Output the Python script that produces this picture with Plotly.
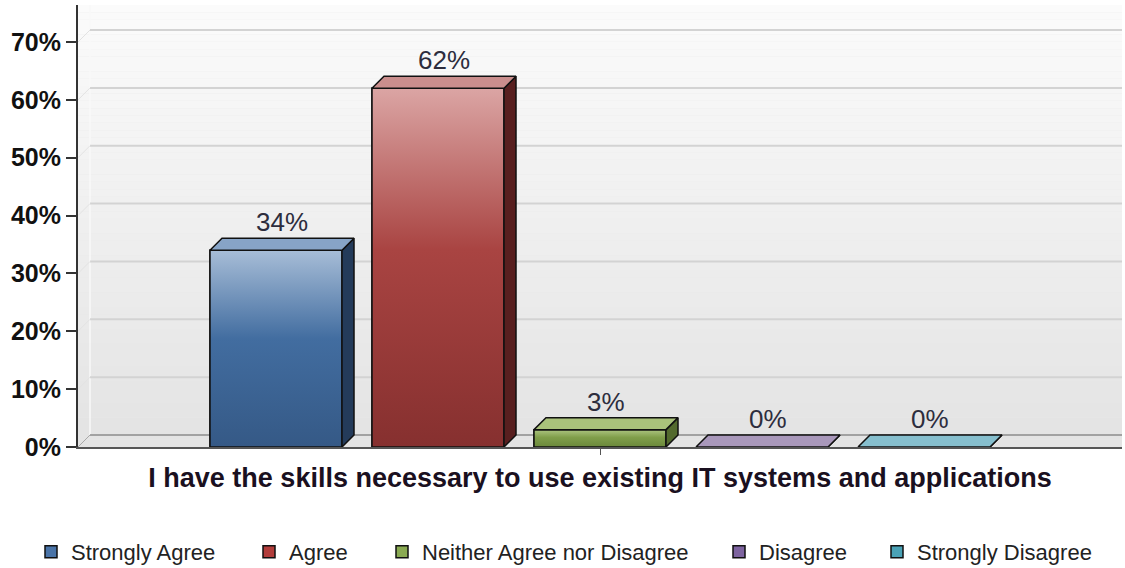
import plotly.graph_objects as go

# ---- data ---------------------------------------------------------------
question = "I have the skills necessary to use existing IT systems and applications"
responses = ["Strongly Agree", "Agree", "Neither Agree nor Disagree", "Disagree", "Strongly Disagree"]
percentages = [34, 62, 3, 0, 0]
y_ticks = [0, 10, 20, 30, 40, 50, 60, 70]

# ---- colours per response -----------------------------------------------
legend_colors = ["#4a74a8", "#b23d3b", "#8aaa52", "#7e64a0", "#4aa2b6"]
front_top = ["#a7bdd7", "#dba5a4", "#adc581", "#b7a9c8", "#9fd0dc"]
front_mid = ["#426da0", "#a94442", "#809e4a", "#8a73a8", "#56aabd"]
front_bottom = ["#355986", "#86302f", "#6b893b", "#6a5485", "#3f8697"]
top_face = ["#87a4c7", "#ca8e8d", "#aac27b", "#a998bb", "#86bfce"]
side_face = ["#243b5a", "#581f1f", "#536a2e", "#4d3e63", "#2f6572"]

# ---- geometry -----------------------------------------------------------
W, H = 1125, 568
M_L, M_R, M_T, M_B = 78, 3, 5, 121
PLOT_W = W - M_L - M_R
PLOT_H = H - M_T - M_B
Y_MAX = 76.4
X_MIN, X_MAX = -0.5, 0.5

DEPTH_PX = 12                       # 3-D depth of bars and walls
DX = DEPTH_PX / PLOT_W
DY = DEPTH_PX * Y_MAX / PLOT_H
SLOT = 162 / PLOT_W                 # spacing between bar centres
BAR_W = 132 / PLOT_W                # bar width
n = len(responses)
centers = [(i - (n - 1) / 2) * SLOT for i in range(n)]

fig = go.Figure()

# bars (also provide the legend entries)
for i, (name, v) in enumerate(zip(responses, percentages)):
    fig.add_trace(go.Bar(
        x=[0], y=[v], width=BAR_W, offset=centers[i] - BAR_W / 2,
        name=name,
        marker=dict(color=legend_colors[i], line=dict(color="#111111", width=1.5)),
        legend="legend" if i == 0 else f"legend{i + 1}",
        hoverinfo="skip",
    ))

# shaded front faces, tops and sides
for i, v in enumerate(percentages):
    x0 = centers[i] - BAR_W / 2
    x1 = centers[i] + BAR_W / 2
    if v > 0:
        fig.add_trace(go.Scatter(
            x=[x0, x1, x1, x0, x0], y=[0, 0, v, v, 0],
            mode="lines", fill="toself",
            fillgradient=dict(type="vertical",
                              colorscale=[[0, front_bottom[i]], [0.55, front_mid[i]], [1, front_top[i]]]),
            line=dict(color="#111111", width=1.5),
            showlegend=False, hoverinfo="skip",
        ))
    # side face
    fig.add_trace(go.Scatter(
        x=[x1, x1 + DX, x1 + DX, x1, x1], y=[0, DY, v + DY, v, 0],
        mode="lines", fill="toself", fillcolor=side_face[i],
        line=dict(color="#111111", width=1.5),
        showlegend=False, hoverinfo="skip",
    ))
    # top face
    fig.add_trace(go.Scatter(
        x=[x0, x1, x1 + DX, x0 + DX, x0], y=[v, v, v + DY, v + DY, v],
        mode="lines", fill="toself", fillcolor=top_face[i],
        line=dict(color="#111111", width=1.5),
        showlegend=False, hoverinfo="skip",
    ))

# value labels
annotations = []
for i, v in enumerate(percentages):
    annotations.append(dict(
        x=centers[i] + DX / 2, y=v + DY, xref="x", yref="y",
        text=f"{v}%", showarrow=False, yanchor="bottom", yshift=-1,
        font=dict(family="Arial", size=26, color="#2d2d3d"),
    ))

# ---- walls, floor and grid ---------------------------------------------
shapes = []
n_bands = 60
c_bot = (0xe3, 0xe3, 0xe3)
c_top = (0xfb, 0xfb, 0xfb)
for b in range(n_bands):
    t = (b + 0.5) / n_bands
    col = tuple(round(c_bot[k] + (c_top[k] - c_bot[k]) * t) for k in range(3))
    shapes.append(dict(
        type="rect", xref="x", yref="y", layer="below",
        x0=X_MIN, x1=X_MAX, y0=Y_MAX * b / n_bands, y1=Y_MAX * (b + 1) / n_bands,
        fillcolor="rgb(%d,%d,%d)" % col, line=dict(width=0),
    ))
# left wall edge
shapes.append(dict(type="line", xref="x", yref="y", layer="below",
                   x0=X_MIN + DX, x1=X_MIN + DX, y0=DY, y1=Y_MAX,
                   line=dict(color="#f8f8f8", width=1.5)))
# grid lines on the back wall with their receding left ends
for v in y_ticks:
    if v == 0:
        continue
    shapes.append(dict(type="line", xref="x", yref="y", layer="below",
                       x0=X_MIN + DX, x1=X_MAX, y0=v + DY, y1=v + DY,
                       line=dict(color="#d3d3d3", width=2)))
    shapes.append(dict(type="line", xref="x", yref="y", layer="below",
                       x0=X_MIN, x1=X_MIN + DX, y0=v, y1=v + DY,
                       line=dict(color="#e2e2e2", width=1)))
# floor edges
shapes.append(dict(type="line", xref="x", yref="y", layer="below",
                   x0=X_MIN + DX, x1=X_MAX, y0=DY, y1=DY,
                   line=dict(color="#8c8c8c", width=1.5)))
shapes.append(dict(type="line", xref="x", yref="y", layer="below",
                   x0=X_MIN, x1=X_MIN + DX, y0=0, y1=DY,
                   line=dict(color="#a8a8a8", width=1)))

# ---- legends: one per response, laid out in a row -----------------------
legend_left_px = [45, 263, 396, 733, 891]
legend_font = dict(family="Arial", size=22, color="#222222")
layout_legends = {}
for i, px in enumerate(legend_left_px):
    key = "legend" if i == 0 else f"legend{i + 1}"
    layout_legends[key] = dict(
        x=(px - 14 - M_L) / PLOT_W, y=-(552 - (M_T + PLOT_H)) / PLOT_H,
        xanchor="left", yanchor="middle", orientation="h",
        font=legend_font, bgcolor="rgba(0,0,0,0)", borderwidth=0,
    )

fig.update_layout(
    width=W, height=H,
    margin=dict(l=M_L, r=M_R, t=M_T, b=M_B, autoexpand=False),
    paper_bgcolor="#ffffff", plot_bgcolor="#e8e8e8",
    barmode="overlay",
    showlegend=True,
    xaxis=dict(
        range=[X_MIN, X_MAX], tickvals=[0], ticktext=[question],
        showgrid=False, zeroline=False, showline=True,
        linecolor="#555555", linewidth=2,
        ticks="outside", ticklen=6, tickwidth=1, tickcolor="#555555",
        tickfont=dict(family="Arial", size=27, weight="bold", color="#1a1020"),
        fixedrange=True,
    ),
    yaxis=dict(
        range=[0, Y_MAX], tickvals=y_ticks, ticktext=[f"{v}%" for v in y_ticks],
        showgrid=False, zeroline=False, showline=True,
        linecolor="#333333", linewidth=2,
        ticks="outside", ticklen=10, tickwidth=2, tickcolor="#333333",
        tickfont=dict(family="Arial", size=25, weight="bold", color="#111111"),
        fixedrange=True,
    ),
    shapes=shapes,
    annotations=annotations,
    **layout_legends,
)

fig.write_html("out.html")
